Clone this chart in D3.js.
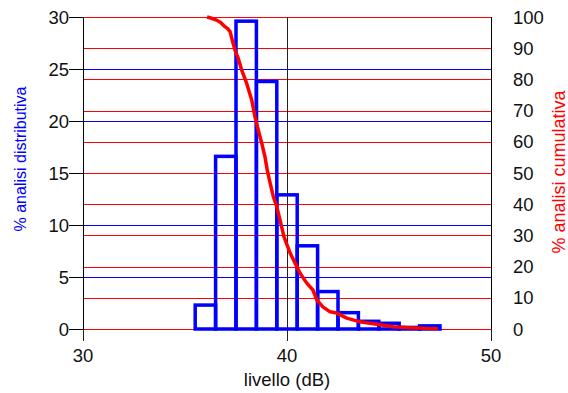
<!DOCTYPE html>
<html><head><meta charset="utf-8">
<script src="https://cdn.jsdelivr.net/npm/d3@7/dist/d3.min.js"></script>
<style>html,body{margin:0;padding:0;background:#fff;}svg{display:block;font-family:"Liberation Sans",Arial,sans-serif;}</style>
</head><body>
<script>
// Histogram (distributive %) — bins of 1 dB centred on integer levels
const binCenters = [36, 37, 38, 39, 40, 41, 42, 43, 44, 45, 46, 47];
const distPct    = [2.3, 16.6, 29.6, 23.8, 12.9, 8.0, 3.6, 1.57, 0.74, 0.55, 0.15, 0.3];
// Cumulative (exceedance) curve
const cumLevel = [36.08, 36.30, 36.55, 36.75, 36.96, 37.10, 37.21, 37.35, 37.45, 37.60, 37.78, 38.02, 38.27, 38.43, 38.59, 38.76, 38.92, 39.03, 39.17, 39.33, 39.50, 39.66, 39.85, 40.15, 40.39, 40.64, 40.97, 41.27, 41.46, 41.76, 42.11, 42.44, 42.93, 43.58, 44.40, 45.20, 46.03, 46.85, 47.40];
const cumPct   = [100, 99.6, 99.0, 98.2, 96.9, 96.2, 95.3, 91.7, 89.4, 86.9, 83.0, 78.8, 73.4, 68.0, 63.8, 59.6, 55.2, 51.0, 46.8, 42.4, 39.2, 34.9, 29.6, 24.4, 21.2, 17.9, 14.7, 12.5, 9.3, 7.1, 5.5, 5.1, 3.5, 2.3, 1.5, 0.7, 0.4, 0.2, 0.1];
// Ticks
const xTicks = [30, 40, 50];
const yLeftTicks = [0, 5, 10, 15, 20, 25, 30];
const yRightTicks = [0, 10, 20, 30, 40, 50, 60, 70, 80, 90, 100];
const xLabel = "livello (dB)";
const yLeftLabel = "% analisi distributiva";
const yRightLabel = "% analisi cumulativa";

const W = 568, H = 393;
const L = 83, R = 491, T = 17, B = 329;
const svg = d3.select("body").append("svg").attr("width", W).attr("height", H);

const x = d3.scaleLinear().domain([30, 50]).range([L, R]);
const yL = d3.scaleLinear().domain([0, 30]).range([B, T]);
const yR = d3.scaleLinear().domain([0, 100]).range([B, T]);

// gridlines: blue for left ticks, red for right ticks
svg.append("g").selectAll("line").data(yLeftTicks.filter(d => d > 0 && d < 30)).join("line")
  .attr("x1", L).attr("x2", R).attr("y1", d => Math.round(yL(d)) + 0.5).attr("y2", d => Math.round(yL(d)) + 0.5)
  .attr("stroke", "#0000ff").attr("stroke-width", 1).attr("shape-rendering", "crispEdges");
svg.append("g").selectAll("line").data(yRightTicks).join("line")
  .attr("x1", L).attr("x2", R).attr("y1", d => Math.round(yR(d)) + 0.5).attr("y2", d => Math.round(yR(d)) + 0.5)
  .attr("stroke", "#ff0000").attr("stroke-width", 1).attr("shape-rendering", "crispEdges");

// vertical grid at 40 (and bottom ticks)
svg.append("g").selectAll("line").data(xTicks).join("line")
  .attr("x1", d => Math.round(x(d)) + 0.5).attr("x2", d => Math.round(x(d)) + 0.5)
  .attr("y1", d => (d === 40 ? T : B)).attr("y2", B + 12)
  .attr("stroke", "#222").attr("stroke-width", 1);

// histogram
svg.append("g").selectAll("rect").data(binCenters.map((c, i) => ({c, v: distPct[i]}))).join("rect")
  .attr("x", d => x(d.c - 0.5)).attr("width", d => x(d.c + 0.5) - x(d.c - 0.5))
  .attr("y", d => yL(d.v)).attr("height", d => yL(0) - yL(d.v))
  .attr("fill", "none").attr("stroke", "#0000ff").attr("stroke-width", 3.5);

// cumulative curve
const line = d3.line().x(d => x(d[0])).y(d => yR(d[1]));
svg.append("path").datum(cumLevel.map((l, i) => [l, cumPct[i]]))
  .attr("d", line).attr("fill", "none").attr("stroke", "#ff0000").attr("stroke-width", 3.5)
  .attr("stroke-linejoin", "round");

// axes lines
svg.append("line").attr("x1", L + 0.5).attr("x2", L + 0.5).attr("y1", T).attr("y2", B).attr("stroke", "#000");
svg.append("line").attr("x1", R + 0.5).attr("x2", R + 0.5).attr("y1", T).attr("y2", B).attr("stroke", "#000");

// left ticks
svg.append("g").selectAll("line").data(yLeftTicks).join("line")
  .attr("x1", L - 14).attr("x2", L).attr("y1", d => Math.round(yL(d)) + 0.5).attr("y2", d => Math.round(yL(d)) + 0.5)
  .attr("stroke", "#000");
svg.append("g").selectAll("text").data(yLeftTicks).join("text")
  .attr("x", L - 14).attr("y", d => yL(d)).attr("dy", "0.36em").attr("text-anchor", "end")
  .attr("font-size", 18.5).attr("fill", "#111").text(d => d);
// right tick labels
svg.append("g").selectAll("text").data(yRightTicks).join("text")
  .attr("x", 513).attr("y", d => yR(d)).attr("dy", "0.36em").attr("text-anchor", "start")
  .attr("font-size", 18.5).attr("fill", "#111").text(d => d);
// bottom tick labels
svg.append("g").selectAll("text").data(xTicks).join("text")
  .attr("x", d => x(d)).attr("y", 362).attr("text-anchor", "middle")
  .attr("font-size", 18.5).attr("fill", "#111").text(d => d);

// titles
svg.append("text").attr("x", x(40)).attr("y", 386).attr("text-anchor", "middle")
  .attr("font-size", 18.5).attr("fill", "#111").text(xLabel);
svg.append("text").attr("transform", "translate(26,159) rotate(-90)").attr("text-anchor", "middle")
  .attr("font-size", 16).attr("fill", "#0000ff").text(yLeftLabel);
svg.append("text").attr("transform", "translate(565,172) rotate(-90)").attr("text-anchor", "middle")
  .attr("font-size", 18).attr("fill", "#ff0000").text(yRightLabel);
</script>
</body></html>
